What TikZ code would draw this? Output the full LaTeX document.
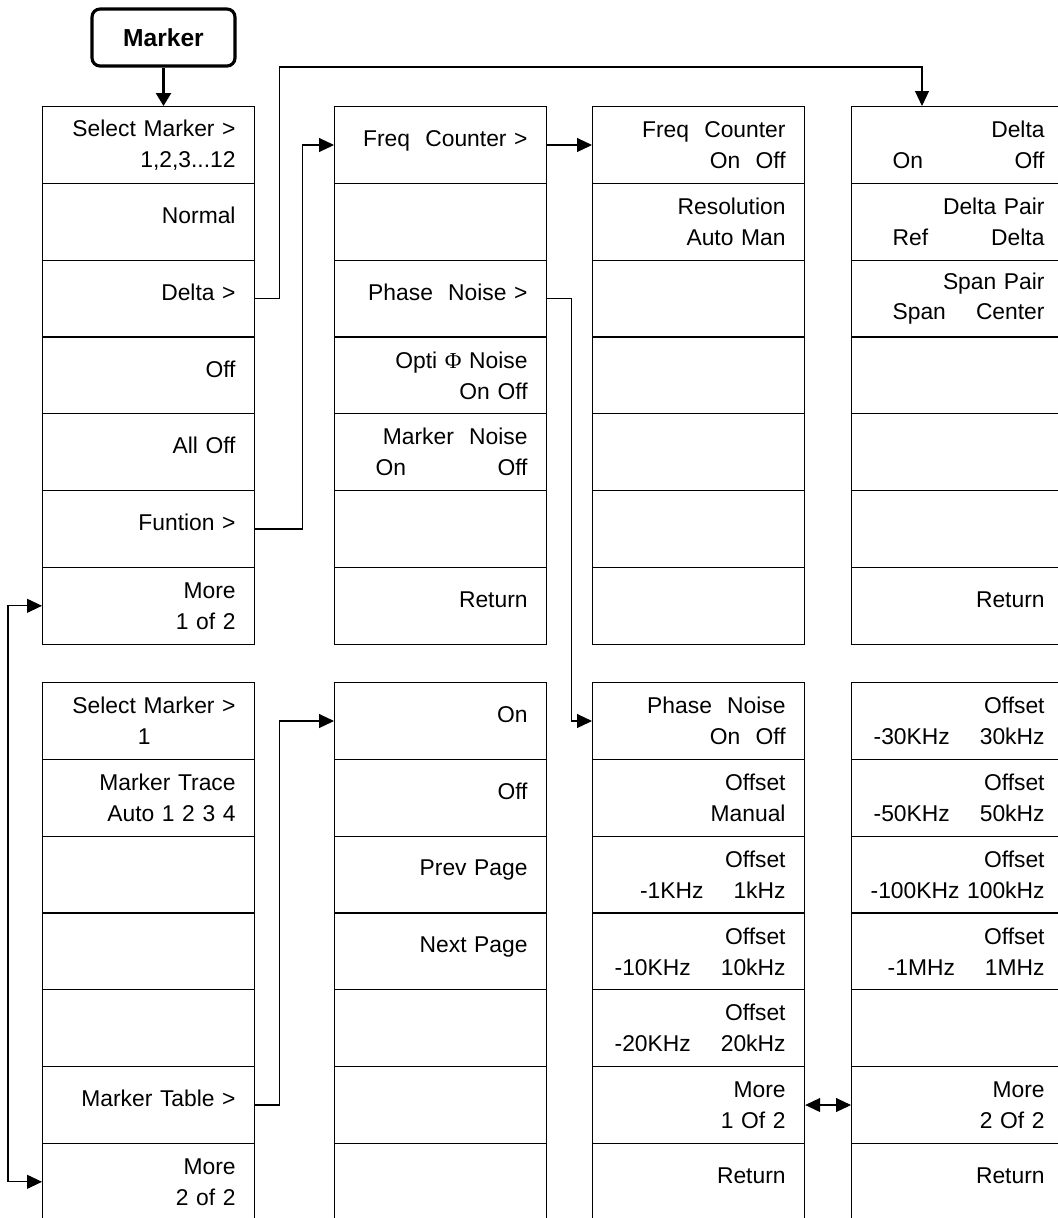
\documentclass[tikz,border=0pt]{standalone}
\usepackage{fontspec}
\setmainfont{Liberation Sans}
\newfontfamily\greekserif{Liberation Serif}
\usetikzlibrary{arrows.meta,calc}
\newcommand{\kgap}{\hspace{0.6cm}}
\newcommand{\tdots}{...}
\newcommand{\pair}[2]{\makebox[3.04cm]{#1\hfill#2}}
\newcommand{\menucolumn}[4]{%
  \foreach \txt [count=\row] in {#4} {%
    \node[keybox] (#1\row) at (#2,{#3+76.8*(\row-1)}) {\txt};%
  }%
}

\begin{document}
\begin{tikzpicture}[x=0.02cm,y=-0.02cm,font=\fontsize{13}{17.6}\selectfont,
  keybox/.style={draw,line width=0.7pt,anchor=north west,minimum width=4.24cm,
    minimum height=1.536cm,inner xsep=0.38cm,inner ysep=0pt,text width=3.48cm,
    align=right,execute at begin node={\rule[-0.26cm]{0pt}{0pt}}},
  hardkey/.style={draw,line width=1.8pt,rounded corners=0.16cm,minimum width=2.86cm,
    minimum height=1.14cm,font=\fontsize{14}{16}\selectfont\bfseries},
  conn/.style={line width=0.6pt,-{Triangle[length=0.3cm,width=0.28cm]}},
  both/.style={line width=0.6pt,{Triangle[length=0.3cm,width=0.28cm]}-{Triangle[length=0.3cm,width=0.28cm]}},
  thickconn/.style={line width=1.4pt,-{Triangle[length=0.26cm,width=0.3cm]}}]
  \useasboundingbox (0,0) rectangle (1058,1218);
  \node[hardkey] (marker) at (163.5,37.5) {Marker};
  % first page of the menu
  \menucolumn{sel}{42}{106}{{Select Marker >\\1,2,3\tdots12},Normal,Delta >,Off,All Off,Funtion >,{More\\1 of 2}}
  \menucolumn{fun}{334}{106}{{Freq\ \ Counter >},{},{Phase\ \ Noise >},{Opti {\greekserif Φ} Noise\\On Off},{Marker\ \ Noise\\\pair{On}{Off}},{},Return}
  \menucolumn{cnt}{592}{106}{{Freq\ \ Counter\\On\ \ Off},{Resolution\\Auto Man},{},{},{},{},{}}
  \menucolumn{dlt}{851}{106}{{Delta\\\pair{On}{Off}},{Delta Pair\\\pair{Ref}{Delta}},{Span Pair\\\pair{Span}{Center}},{},{},{},Return}
  % second page of the menu
  \menucolumn{mor}{42}{682}{{Select Marker >\\1\rule{1.7cm}{0pt}},{Marker Trace\\Auto 1 2 3 4},{},{},{},Marker Table >,{More\\2 of 2}}
  \menucolumn{tbl}{334}{682}{On,Off,Prev Page,Next Page,{},{},{}}
  \menucolumn{phn}{592}{682}{{Phase\ \ Noise\\On\ \ Off},{Offset\\Manual},{Offset\\-1KHz\kgap 1kHz},{Offset\\-10KHz\kgap 10kHz},{Offset\\-20KHz\kgap 20kHz},{More\\1 Of 2},Return}
  \menucolumn{ofs}{851}{682}{{Offset\\-30KHz\kgap 30kHz},{Offset\\-50KHz\kgap 50kHz},{Offset\\-100KHz 100kHz},{Offset\\-1MHz\kgap 1MHz},{},{More\\2 Of 2},Return}
  % connectors
  \coordinate (deltatop) at (922,67);
  \draw[thickconn] (marker.south) -- (marker.south |- sel1.north);
  \draw[conn] (sel3.east) -- ++(24,0) |- (deltatop) -- (deltatop |- dlt1.north);
  \draw[conn] (sel6.east) -- ++(47,0) |- (fun1.west);
  \draw[conn] (fun1.east) -- (cnt1.west);
  \draw[conn] (fun3.east) -- ++(24,0) |- (phn1.west);
  \draw[conn] (mor6.east) -- ++(24,0) |- (tbl1.west);
  \draw[both] (sel7.west) -- ++(-34,0) |- (mor7.west);
  \draw[both] (phn6.east) -- (ofs6.west);
\end{tikzpicture}
\end{document}
